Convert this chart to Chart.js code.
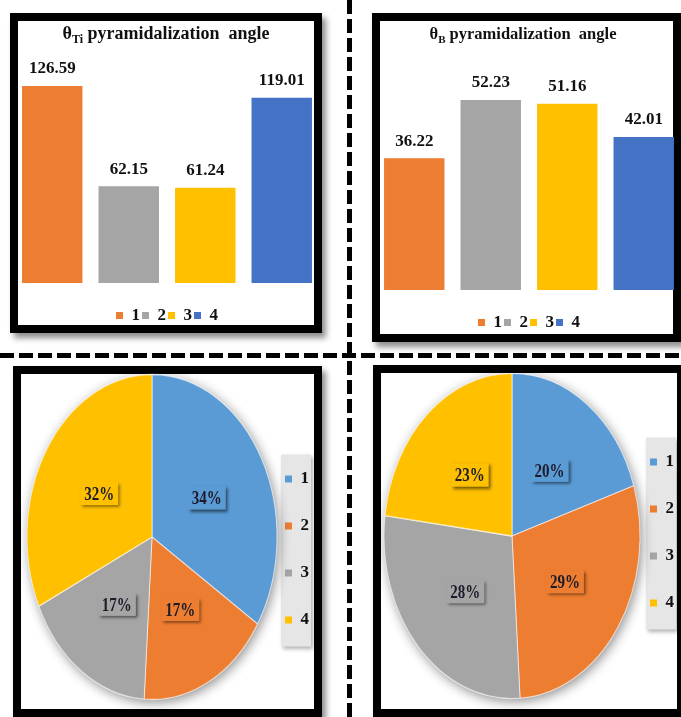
<!DOCTYPE html>
<html>
<head>
<meta charset="utf-8">
<script src="https://cdn.jsdelivr.net/npm/chart.js@4.4.1/dist/chart.umd.min.js"></script>
<style>
  html, body { margin: 0; padding: 0; background: #fff; }
  body { position: relative; width: 681px; height: 717px; overflow: hidden; font-family: "Liberation Serif", serif; }
  .panel { position: absolute; box-sizing: border-box; border: 8px solid #000; background: #fff; box-shadow: 4px 5px 6px rgba(0,0,0,0.45); }
  .dash-v { position: absolute; left: 347px; top: 0; width: 5px; height: 717px;
            background: repeating-linear-gradient(to bottom, #000 0 14px, transparent 14px 19px); }
  .dash-h { position: absolute; left: 0; top: 353px; width: 681px; height: 5px;
            background: repeating-linear-gradient(to right, #000 0 14px, transparent 14px 19px); }
  canvas { position: absolute; }
</style>
</head>
<body>
<div class="dash-v"></div>
<div class="dash-h"></div>
<div class="panel" style="left:10px;top:13px;width:312px;height:320px"></div>
<div class="panel" style="left:372px;top:13px;width:309px;height:329px"></div>
<div class="panel" style="left:13px;top:366px;width:309px;height:351px"></div>
<div class="panel" style="left:373px;top:365px;width:312px;height:352px"></div>

<canvas id="barTi" width="306" height="313" style="left:14px;top:21px"></canvas>
<canvas id="barB" width="306" height="320" style="left:376px;top:21px"></canvas>
<canvas id="pieLeft" width="298" height="336" style="left:21px;top:373px"></canvas>
<canvas id="pieRight" width="303" height="336" style="left:381px;top:373px"></canvas>

<script>
document.addEventListener('DOMContentLoaded', function () {
    // --- Data ---
    const categories = ['1', '2', '3', '4'];
    const thetaTiValues = [126.59, 62.15, 61.24, 119.01];
    const thetaBValues = [36.22, 52.23, 51.16, 42.01];
    const pieLeftValues = [34, 17, 17, 32];
    const pieRightValues = [20, 29, 28, 23];

    const barColors = ['#ED7D31', '#A5A5A5', '#FFC000', '#4472C4'];
    const pieColors = ['#5B9BD5', '#ED7D31', '#A5A5A5', '#FFC000'];
    const serif = '"Liberation Serif", "Times New Roman", serif';

    // title with a subscript: θ + sub + rest
    const subTitle = {
        id: 'subTitle',
        afterDraw(chart, args, opts) {
            const ctx = chart.ctx;
            const big = `bold ${opts.size}px ${serif}`;
            const small = `bold ${Math.round(opts.size * 0.68)}px ${serif}`;
            ctx.save();
            ctx.font = big;
            const w1 = ctx.measureText(opts.symbol).width;
            const w3 = ctx.measureText(opts.rest).width;
            ctx.font = small;
            const w2 = ctx.measureText(opts.sub).width;
            let x = opts.x - (w1 + w2 + w3) / 2;
            ctx.fillStyle = '#111';
            ctx.textBaseline = 'alphabetic';
            ctx.font = big; ctx.fillText(opts.symbol, x, opts.y); x += w1;
            ctx.font = small; ctx.fillText(opts.sub, x, opts.y + opts.size * 0.22); x += w2;
            ctx.font = big; ctx.fillText(opts.rest, x, opts.y);
            ctx.restore();
        }
    };

    const valueLabels = {
        id: 'valueLabels',
        afterDatasetsDraw(chart, args, opts) {
            const ctx = chart.ctx;
            const data = chart.data.datasets[0].data;
            ctx.save();
            ctx.font = `bold 17px ${serif}`;
            ctx.fillStyle = '#111';
            ctx.textAlign = 'center';
            ctx.textBaseline = 'middle';
            chart.getDatasetMeta(0).data.forEach((bar, i) => {
                ctx.fillText(data[i].toFixed(2), bar.x, bar.y - opts.offset);
            });
            ctx.restore();
        }
    };

    function legendItems(colors) {
        return chart => chart.data.labels.map((l, i) => ({
            text: l, fillStyle: colors[i], strokeStyle: colors[i], lineWidth: 0,
            hidden: false, index: i, datasetIndex: 0, fontColor: '#111'
        }));
    }

    function makeBar(id, values, maxY, padTop, title) {
        new Chart(document.getElementById(id), {
            type: 'bar',
            data: {
                labels: categories,
                datasets: [{
                    data: values,
                    backgroundColor: barColors,
                    borderWidth: 0,
                    categoryPercentage: 1,
                    barPercentage: 0.79
                }]
            },
            plugins: [subTitle, valueLabels],
            options: {
                responsive: false,
                animation: false,
                layout: { padding: { top: padTop, left: 0, right: 0, bottom: 0 } },
                plugins: {
                    tooltip: { enabled: false },
                    title: { display: false },
                    subTitle: title,
                    valueLabels: { offset: 17 },
                    legend: {
                        position: 'bottom',
                        labels: {
                            boxWidth: 7, boxHeight: 7, padding: 2, color: '#111',
                            font: { family: serif, size: 17, weight: 'bold' },
                            generateLabels: legendItems(barColors)
                        }
                    }
                },
                scales: {
                    y: { display: false, min: 0, max: maxY },
                    x: {
                        display: true,
                        grid: { display: false },
                        border: { display: false },
                        ticks: { display: false },
                        afterFit(scale) { scale.height = 22; }
                    }
                }
            }
        });
    }

    makeBar('barTi', thetaTiValues, 150, 28.6,
        { x: 152, y: 18, size: 18, symbol: 'θ', sub: 'Ti', rest: ' pyramidalization  angle' });
    makeBar('barB', thetaBValues, 65, 32.4,
        { x: 147, y: 18, size: 16.5, symbol: 'θ', sub: 'B', rest: ' pyramidalization  angle' });

    // pie drawn as a vertically stretched ellipse, with boxed % labels
    const ellipsePie = {
        id: 'ellipsePie',
        beforeDraw(chart) {
            const boxes = chart.legend.legendHitBoxes;
            if (!boxes || !boxes.length) return;
            const ctx = chart.ctx;
            const x0 = boxes[0].left - 4;
            const y0 = boxes[0].top - 16;
            const y1 = boxes[boxes.length - 1].top + boxes[boxes.length - 1].height + 18;
            ctx.save();
            ctx.shadowColor = 'rgba(0,0,0,0.3)';
            ctx.shadowBlur = 4;
            ctx.shadowOffsetX = 2;
            ctx.shadowOffsetY = 2;
            ctx.fillStyle = '#e6e6e6';
            ctx.fillRect(x0, y0, 30, y1 - y0);
            ctx.restore();
        },
        beforeDatasetsDraw(chart, args, opts) {
            const arc = chart.getDatasetMeta(0).data[0];
            const { x, y, outerRadius } = arc;
            const cy = y + opts.offsetY;
            const ctx = chart.ctx;
            ctx.save();
            ctx.save();
            ctx.shadowColor = 'rgba(0,0,0,0.45)';
            ctx.shadowBlur = 12;
            ctx.shadowOffsetX = 2;
            ctx.shadowOffsetY = 3;
            ctx.fillStyle = '#ccc';
            ctx.beginPath();
            ctx.ellipse(x, cy, outerRadius, outerRadius * opts.stretch, 0, 0, Math.PI * 2);
            ctx.fill();
            ctx.restore();
            ctx.translate(x, cy);
            ctx.scale(1, opts.stretch);
            ctx.translate(-x, -y);
        },
        afterDatasetsDraw(chart, args, opts) {
            const ctx = chart.ctx;
            ctx.restore();
            const data = chart.data.datasets[0].data;
            const colors = chart.data.datasets[0].backgroundColor;
            chart.getDatasetMeta(0).data.forEach((arc, i) => {
                const mid = (arc.startAngle + arc.endAngle) / 2;
                const r = arc.outerRadius * opts.labelRadius;
                const lx = arc.x + Math.cos(mid) * r;
                const ly = arc.y + opts.offsetY + Math.sin(mid) * r * opts.stretch;
                const text = data[i] + '%';
                ctx.save();
                ctx.translate(lx, ly);
                ctx.scale(1, 1.3);
                ctx.font = `bold 15px ${serif}`;
                const w = ctx.measureText(text).width + 8;
                const h = 18;
                ctx.shadowColor = 'rgba(0,0,0,0.55)';
                ctx.shadowBlur = 3;
                ctx.shadowOffsetX = 2;
                ctx.shadowOffsetY = 2;
                ctx.fillStyle = colors[i];
                ctx.fillRect(-w / 2, -h / 2, w, h);
                ctx.shadowColor = 'transparent';
                ctx.fillStyle = '#1b1b2a';
                ctx.textAlign = 'center';
                ctx.textBaseline = 'middle';
                ctx.fillText(text, 0, 1);
                ctx.restore();
            });
        }
    };

    function makePie(id, values, radius, stretch, offsetY, pad) {
        new Chart(document.getElementById(id), {
            type: 'pie',
            data: {
                labels: categories,
                datasets: [{
                    data: values,
                    backgroundColor: pieColors,
                    borderColor: 'rgba(255,255,255,0.6)',
                    borderWidth: 1,
                    radius: radius
                }]
            },
            plugins: [ellipsePie],
            options: {
                responsive: false,
                animation: false,
                layout: { padding: pad },
                plugins: {
                    tooltip: { enabled: false },
                    ellipsePie: { stretch: stretch, labelRadius: 0.5, offsetY: offsetY },
                    legend: {
                        position: 'right',
                        align: 'center',
                        labels: {
                            boxWidth: 7, boxHeight: 7, padding: 30, color: '#111',
                            font: { family: serif, size: 17, weight: 'bold' },
                            generateLabels: legendItems(pieColors)
                        }
                    }
                }
            }
        });
    }

    makePie('pieLeft', pieLeftValues, 125, 1.3, -12.5, { left: 28, top: 46.5, bottom: 29.5, right: 0 });
    makePie('pieRight', pieRightValues, 128, 1.27, 3.5, { left: 23, top: 29.5, bottom: 46.5, right: 0 });
});
</script>
</body>
</html>
